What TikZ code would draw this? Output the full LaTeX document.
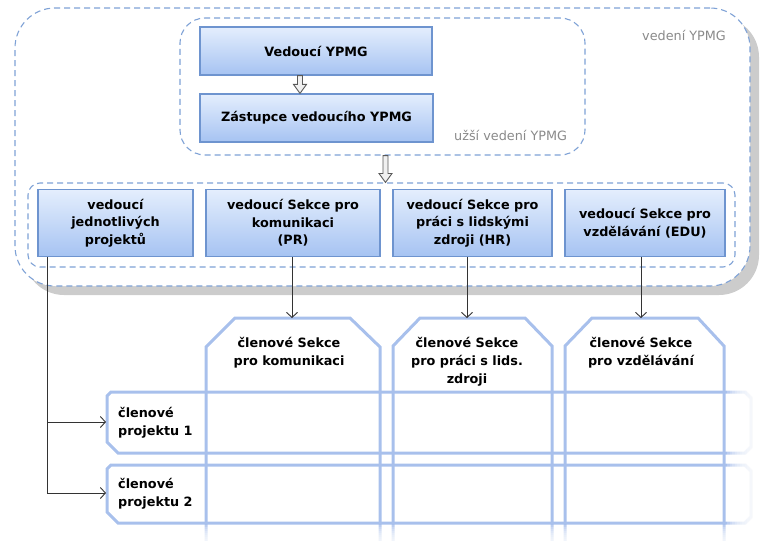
\documentclass[tikz,border=0pt]{standalone}
\usepackage{fontspec}
\setmainfont{DejaVu Sans}
\usetikzlibrary{arrows.meta,positioning,shadows,calc}
\definecolor{boxtop}{HTML}{E4EEFD}
\definecolor{boxbot}{HTML}{A6C3F2}
\definecolor{boxline}{HTML}{6E94CF}
\definecolor{dashline}{HTML}{7FA2D6}
\definecolor{lanecol}{HTML}{A8C0EC}
\definecolor{shade}{HTML}{CCCCCC}
\definecolor{labelgray}{HTML}{8A8A8A}
\tikzset{
  leadbox/.style={draw=boxline, line width=1.2pt, top color=boxtop, bottom color=boxbot,
    font=\bfseries\fontsize{12.8}{17.5}\selectfont, align=center, inner sep=2pt},
  group/.style={draw=dashline, dash pattern=on 6pt off 4pt, line width=1.1pt},
  lane/.style={draw=lanecol, line width=3pt, line join=miter},
  lanetext/.style={font=\bfseries\fontsize{12.8}{18}\selectfont, align=center, inner sep=0pt},
  conn/.style={draw=black!80, line width=0.9pt, -{Straight Barb[length=5pt,width=11pt]}},
  hollow/.style={draw=black!65, line width=0.9pt, fill=black!6, line join=miter,
    to path={($(\tikztostart)+(-2.5,0)$) -- ($(\tikztotarget)+(-2.5,-9)$)
      -- ($(\tikztotarget)+(-6.5,-9)$) -- (\tikztotarget) -- ($(\tikztotarget)+(6.5,-9)$)
      -- ($(\tikztotarget)+(2.5,-9)$) -- ($(\tikztostart)+(2.5,0)$) -- cycle}},
  grouplabel/.style={text=labelgray, font=\fontsize{12.8}{15}\selectfont, inner sep=0pt}
}

\begin{document}
\begin{tikzpicture}[x=1pt, y=-1pt]
\useasboundingbox (0,0) rectangle (761,541);

% groups
\node[group, fill=white, rounded corners=40pt, minimum width=735, minimum height=278,
  drop shadow={shadow xshift=9pt, shadow yshift=-9pt, fill=shade, opacity=1, draw=none}] (outer) at (382.5,147) {};
\node[group, rounded corners=25pt, minimum width=405, minimum height=137] (inner) at (382.5,86.5) {};
\node[group, rounded corners=12pt, minimum width=707, minimum height=84] (lead) at (381.5,225) {};
\node[grouplabel, anchor=base west] (outerlbl) at (642,40) {vedení YPMG};
\node[grouplabel, anchor=base west] (innerlbl) at (454,140) {užší vedení YPMG};

% boxes
\node[leadbox, minimum width=232, minimum height=48] (head) at (316,51) {Vedoucí YPMG};
\node[leadbox, minimum width=233, minimum height=48] (deputy) at (316.5,118) {Zástupce vedoucího YPMG};
\node[leadbox, minimum width=155, minimum height=67] (proj) at (115.5,223) {vedoucí\\jednotlivých\\projektů};
\node[leadbox, minimum width=174, minimum height=67] (pr) at (293,223) {vedoucí Sekce pro\\komunikaci\\(PR)};
\node[leadbox, minimum width=159, minimum height=67] (hr) at (472.5,223) {vedoucí Sekce pro\\práci s lidskými\\zdroji (HR)};
\node[leadbox, minimum width=160, minimum height=67] (edu) at (645,223) {vedoucí Sekce pro\\vzdělávání (EDU)};

\coordinate (step) at (300,0);
\draw[hollow] (head.south -| step) to (deputy.north -| step);
\coordinate (gap) at ($(inner.south)+(3,0)$);
\draw[hollow] (gap) to (gap |- lead.north);

% lanes
\draw[lane] (206,541) -- (206,347) -- (235,318) -- (350,318) -- (380,347) -- (380,541);
\draw[lane] (393,541) -- (393,346) -- (420,318) -- (525,318) -- (552,346) -- (552,541);
\draw[lane] (565,541) -- (565,346) -- (592,318) -- (698,318) -- (724,346) -- (724,541);
\draw[lane] (111,392) -- (745,392) -- (751,398) -- (751,447) -- (745,453) -- (118,453) -- (107,442) -- (107,396) -- cycle;
\draw[lane] (111,465) -- (745,465) -- (751,471) -- (751,517) -- (745,523) -- (118,523) -- (107,512) -- (107,469) -- cycle;

% fade out
\foreach \i in {0,...,11}
  \fill[white, fill opacity=.22] (727+2.5*\i,385) rectangle (761,530);
\foreach \i in {0,...,7}
  \fill[white, fill opacity=.22] (195,525+2*\i) rectangle (761,545);

\coordinate (t1) at (292,318);
\coordinate (t2) at (467,318);
\coordinate (t3) at (641,318);
\coordinate (r1) at (106,422);
\coordinate (r2) at (106,493);
\coordinate (trunk) at (47,0);

\draw[conn] (pr.south -| t1) -- (t1);
\draw[conn] (hr.south -| t2) -- (t2);
\draw[conn] (edu.south -| t3) -- (t3);
\draw[conn] (proj.south -| trunk) |- (r1);
\draw[conn] (proj.south -| trunk) |- (r2);

\node[lanetext, anchor=north] (sec1) at (289,337) {členové Sekce\\pro komunikaci};
\node[lanetext, anchor=north] (sec2) at (467,337) {členové Sekce\\pro práci s lids.\\zdroji};
\node[lanetext, anchor=north] (sec3) at (641,337) {členové Sekce\\pro vzdělávání};
\node[lanetext, anchor=north west, align=left] (mem1) at (118,407) {členové\\projektu 1};
\node[lanetext, anchor=north west, align=left] (mem2) at (118,478) {členové\\projektu 2};
\end{tikzpicture}
\end{document}
